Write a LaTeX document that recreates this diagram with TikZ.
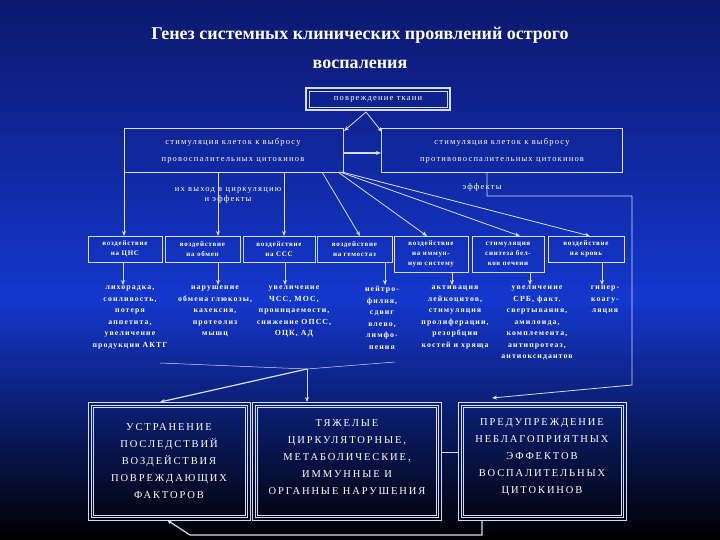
\documentclass[tikz,border=0pt]{standalone}
\usepackage{fontspec}
\setmainfont{Liberation Serif}
\usetikzlibrary{arrows.meta}
\definecolor{bgtop}{RGB}{12,24,110}
\definecolor{bgmid}{RGB}{20,55,205}
\definecolor{ln}{RGB}{215,220,245}
\tikzset{
 x=1pt,y=-1pt,
 ln/.style={draw=ln,line width=0.8pt},
 arr/.style={ln,-{Stealth[length=5pt,width=4pt]}},
 wbox/.style={draw=ln,line width=0.8pt,inner sep=0pt},
 txt/.style={text=white,font=\fontsize{8.5}{10}\selectfont\addfontfeatures{LetterSpace=14},align=center},
 eff/.style={text=white,font=\bfseries\fontsize{7.8}{11.5}\selectfont\addfontfeatures{LetterSpace=14},align=center,anchor=north,inner sep=0pt},
 big/.style={text=white,font=\fontsize{10.5}{17}\selectfont\addfontfeatures{LetterSpace=18},align=center},
}
\begin{document}
\begin{tikzpicture}
\useasboundingbox (0,0) rectangle (720,540);
\shade[top color=bgtop,bottom color=bgmid] (0,0) rectangle (720,300);
\shade[top color=bgmid,bottom color=black] (0,300) rectangle (720,540);
\node[text=white,font=\bfseries\fontsize{18}{29}\selectfont,align=center] (title) at (360,48) {Генез системных клинических проявлений острого\\воспаления};
% top box
\draw[wbox,line width=1.6pt] (306,88) rectangle (450,110);
\draw[wbox,line width=0.5pt] (309,91) rectangle (447,107);
\node[txt] (damage) at (378,99) {повреждение ткани};
\coordinate (dmb) at (366,112);
% second row
\draw[wbox] (124,128) rectangle (343,172);
\node[txt] (pro) at (233,151) {стимуляция клеток к выбросу\\[7pt]провоспалительных цитокинов};
\draw[wbox] (381,128) rectangle (622,172);
\node[txt] (anti) at (502,151) {стимуляция клеток к выбросу\\[7pt]противовоспалительных цитокинов};
\coordinate (proTR) at (344,131);
\coordinate (antiTL) at (382,132);
\draw[arr] (dmb) -- (proTR);
\draw[arr] (dmb) -- (antiTL);
\coordinate (pr) at (343,153);
\coordinate (al) at (381,153);
\draw[arr,line width=1.2pt] (pr) -- (al);
\node[txt] (circ) at (228,195) {их выход в циркуляцию\\и эффекты};
\node[txt] (effr) at (482,187) {эффекты};
% seven boxes
\foreach \n/\a/\b/\h/\t in {b1/88/162/26/{воздействие\\на ЦНС},b2/165/240/26/{воздействие\\на обмен},b3/243/315/26/{воздействие\\на ССС},b4/317/392/26/{воздействие\\на гемостаз},b5/394/468/36/{воздействие\\на иммун-\\ную систему},b6/472/544/36/{стимуляция\\синтеза бел-\\ков печени},b7/548/624/26/{воздействие\\на кровь}}{
 \draw[wbox] (\a,236) rectangle (\b,236+\h);
 \node[text=white,font=\bfseries\fontsize{7}{10}\selectfont\addfontfeatures{LetterSpace=10},align=center] (\n) at ({(\a+\b)/2},{236+\h/2}) {\t};
}
% arrows from pro box
\draw[arr] (124,172) -- (124,236);
\draw[arr] (218,172) -- (218,236);
\draw[arr] (284,172) -- (284,236);
\draw[arr] (322,172) -- (360,236);
\draw[arr] (338,172) -- (427,236);
\draw[arr] (340,172) -- (520,236);
\draw[arr] (342,172) -- (590,236);
% anti effects line
\draw[arr] (487,172) -- (487,196) -- (632,196) -- (632,385) -- (492,398);
% effects text
\foreach \x/\y/\bx in {123/262/b1,218/262/b2,285/262/b3,385/262/b4,452/272/b5,530/272/b6,602/262/b7}
 \draw[arr] (\x,\y) -- (\x,285);
\node[eff] (e1) at (130,286) {лихорадка,\\сонливость,\\потеря\\аппетита,\\увеличение\\продукции АКТГ};
\node[eff] (e2) at (215,286) {нарушение\\обмена глюкозы,\\кахексия,\\протеолиз\\мышц};
\node[eff] (e3) at (294,286) {увеличение\\ЧСС, МОС,\\проницаемости,\\снижение ОПСС,\\ОЦК, АД};
\node[eff] (e4) at (382,286) {нейтро-\\филия,\\сдвиг\\влево,\\лимфо-\\пения};
\node[eff] (e5) at (455,286) {активация\\лейкоцитов,\\стимуляция\\пролиферации,\\резорбции\\костей и хряща};
\node[eff] (e6) at (537,286) {увеличение\\СРБ, факт.\\свертывания,\\амилоида,\\комплемента,\\антипротеаз,\\антиоксидантов};
\node[eff] (e7) at (605,286) {гипер-\\коагу-\\ляция};
% converging lines
\coordinate (cv) at (307,369);
\draw[ln,line width=0.5pt] (160,363) -- (cv);
\draw[ln,line width=0.5pt] (395,362) -- (cv);
% bottom boxes
\foreach \n/\a/\b in {A/88/250,B/252/441,C/458/626}{
 \draw[wbox,line width=0.6pt] (\a,402) rectangle (\b,520);
 \draw[wbox,line width=0.6pt] (\a+3,405) rectangle (\b-3,517);
 \draw[wbox,line width=0.6pt] (\a+5,407) rectangle (\b-5,515);
}
\node[big] (tA) at (169,461) {УСТРАНЕНИЕ\\ПОСЛЕДСТВИЙ\\ВОЗДЕЙСТВИЯ\\ПОВРЕЖДАЮЩИХ\\ФАКТОРОВ};
\node[big] (tB) at (347,457) {ТЯЖЕЛЫЕ\\ЦИРКУЛЯТОРНЫЕ,\\МЕТАБОЛИЧЕСКИЕ,\\ИММУННЫЕ И\\ОРГАННЫЕ НАРУШЕНИЯ};
\node[big] (tC) at (542,457) {ПРЕДУПРЕЖДЕНИЕ\\НЕБЛАГОПРИЯТНЫХ\\ЭФФЕКТОВ\\ВОСПАЛИТЕЛЬНЫХ\\ЦИТОКИНОВ};
\draw[arr,line width=1.2pt] (cv) -- (160,402);
\draw[arr] (cv) -- (307,402);
\draw[ln] (441,452) -- (458,452);
\draw[arr,line width=1.2pt] (482,520) -- (482,535) -- (190,535) -- (167,520);
\end{tikzpicture}
\end{document}
